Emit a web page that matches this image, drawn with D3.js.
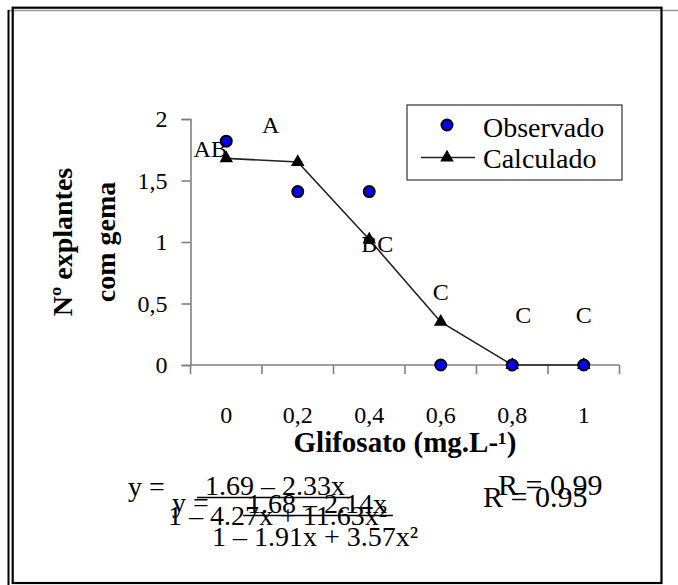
<!DOCTYPE html>
<html>
<head>
<meta charset="utf-8">
<script src="https://cdn.jsdelivr.net/npm/d3@7"></script>
<style>
  html, body { margin: 0; padding: 0; background: #fff; }
  svg text { font-family: "Liberation Serif", "Times New Roman", serif; fill: #000; }
</style>
</head>
<body>
<svg id="chart" width="678" height="585"></svg>
<script>
const categories = ['0', '0,2', '0,4', '0,6', '0,8', '1'];
const observado = [1.82, 1.41, 1.41, 0, 0, 0];
const calculado = [1.68, 1.65, 1.02, 0.35, 0, 0];
const letters = ['AB', 'A', 'BC', 'C', 'C', 'C'];
const letterValues = [1.69, 1.89, 0.92, 0.53, 0.34, 0.34];
const yTicks = [0, 0.5, 1, 1.5, 2];

const svg = d3.select('#chart');

// frames round the chart
svg.append('line').attr('x1', 8).attr('y1', 10.5).attr('x2', 678).attr('y2', 10.5)
  .attr('stroke', '#999').attr('stroke-width', 1.5);
svg.append('line').attr('x1', 8.5).attr('y1', 10).attr('x2', 8.5).attr('y2', 585)
  .attr('stroke', '#000').attr('stroke-width', 2);
svg.append('rect').attr('x', 12.7).attr('y', 7.7).attr('width', 648.8).attr('height', 575.3)
  .attr('fill', 'none').attr('stroke', '#000').attr('stroke-width', 2.2);

const x = d3.scaleBand().domain(categories).range([190.5, 619.5]).padding(0);
const y = d3.scaleLinear().domain([0, 2]).range([365, 119]);
const cx = (i) => x(categories[i]) + x.bandwidth() / 2;

const locale = d3.formatLocale({ decimal: ',', thousands: '.', grouping: [3], currency: ['', ''] });
const fmt = locale.format('~g');

// y axis
const yAxis = svg.append('g')
  .attr('transform', 'translate(190.5,0)')
  .call(d3.axisLeft(y).tickValues(yTicks).tickFormat(fmt).tickSize(9).tickPadding(14));
yAxis.select('.domain').attr('stroke', '#808080').attr('stroke-width', 1.6);
yAxis.selectAll('.tick line').attr('stroke', '#808080').attr('stroke-width', 1.6);
yAxis.selectAll('.tick text')
  .attr('font-family', '"Liberation Serif", serif').attr('font-size', 24).attr('fill', '#000');

// x axis, ticks on the category boundaries
const xg = svg.append('g');
xg.append('line')
  .attr('x1', x.range()[0]).attr('x2', x.range()[1]).attr('y1', y(0)).attr('y2', y(0))
  .attr('stroke', '#808080').attr('stroke-width', 1.6);
const bounds = categories.map(c => x(c)).concat([x.range()[1]]);
xg.selectAll('line.tk').data(bounds).enter().append('line')
  .attr('class', 'tk')
  .attr('x1', d => d).attr('x2', d => d)
  .attr('y1', y(0)).attr('y2', y(0) + 9)
  .attr('stroke', '#808080').attr('stroke-width', 1.6);
xg.selectAll('text').data(categories).enter().append('text')
  .attr('x', (d, i) => cx(i)).attr('y', 423)
  .attr('text-anchor', 'middle').attr('font-size', 24)
  .text(d => d);

// axis titles
svg.append('text')
  .attr('x', (x.range()[0] + x.range()[1]) / 2).attr('y', 452)
  .attr('text-anchor', 'middle').attr('font-size', 29).attr('font-weight', 'bold')
  .text('Glifosato (mg.L-¹)');

const yTitle = svg.append('text')
  .attr('transform', 'translate(0,242) rotate(-90)')
  .attr('text-anchor', 'middle').attr('font-size', 28).attr('font-weight', 'bold');
yTitle.append('tspan').attr('x', 0).attr('y', 72).text('Nº explantes');
yTitle.append('tspan').attr('x', 0).attr('y', 115).text('com gema');

// calculated series
const line = d3.line().x((d, i) => cx(i)).y(d => y(d));
svg.append('path').datum(calculado)
  .attr('d', line).attr('fill', 'none')
  .attr('stroke', '#222').attr('stroke-width', 1.6);

const tri = d3.symbol().type(d3.symbolTriangle).size(80);
svg.selectAll('path.tri').data(calculado).enter().append('path')
  .attr('class', 'tri').attr('d', tri)
  .attr('transform', (d, i) => `translate(${cx(i)},${y(d)})`)
  .attr('fill', '#000');

// observed series
svg.selectAll('circle.obs').data(observado).enter().append('circle')
  .attr('class', 'obs')
  .attr('cx', (d, i) => cx(i)).attr('cy', d => y(d)).attr('r', 5.5)
  .attr('fill', '#0000ff').attr('stroke', '#000').attr('stroke-width', 2);

// letters of the mean comparison
const letterDx = [-16, -27, 8, 0, 11, 0];
svg.selectAll('text.lt').data(letters).enter().append('text')
  .attr('class', 'lt')
  .attr('x', (d, i) => cx(i) + letterDx[i]).attr('y', (d, i) => y(letterValues[i]))
  .attr('text-anchor', 'middle').attr('font-size', 24)
  .text(d => d);

// legend
const lg = svg.append('g');
lg.append('rect').attr('x', 407).attr('y', 105).attr('width', 215).attr('height', 75)
  .attr('fill', '#fff').attr('stroke', '#333').attr('stroke-width', 1.2);
lg.append('circle').attr('cx', 447).attr('cy', 125).attr('r', 5.5)
  .attr('fill', '#0000ff').attr('stroke', '#000').attr('stroke-width', 2);
lg.append('text').attr('x', 483).attr('y', 137).attr('font-size', 28).text('Observado');
lg.append('line').attr('x1', 421).attr('x2', 475).attr('y1', 157.5).attr('y2', 157.5)
  .attr('stroke', '#222').attr('stroke-width', 1.6);
lg.append('path').attr('d', tri).attr('transform', 'translate(447,157.5)').attr('fill', '#000');
lg.append('text').attr('x', 483).attr('y', 168).attr('font-size', 28).text('Calculado');

// fitted equations
const eq = svg.append('g').attr('font-size', 28);
eq.append('text').attr('x', 128).attr('y', 496).text('y =');
eq.append('text').attr('x', 205).attr('y', 495).text('1.69 – 2.33x');
eq.append('line').attr('x1', 197).attr('x2', 350).attr('y1', 497.5).attr('y2', 497.5)
  .attr('stroke', '#000').attr('stroke-width', 1.3);
eq.append('text').attr('x', 168).attr('y', 525).text('1 – 4.27x + 11.63x²');
eq.append('text').attr('x', 172).attr('y', 512).text('y =');
eq.append('text').attr('x', 247).attr('y', 513).text('1.68 – 2.14x');
eq.append('line').attr('x1', 243).attr('x2', 393).attr('y1', 515.5).attr('y2', 515.5)
  .attr('stroke', '#000').attr('stroke-width', 1.3);
eq.append('text').attr('x', 212).attr('y', 546).text('1 – 1.91x + 3.57x²');
eq.append('text').attr('x', 498).attr('y', 495).attr('font-size', 30).text('R = 0.99');
eq.append('text').attr('x', 483).attr('y', 507).attr('font-size', 30).text('R = 0.95');
</script>
</body>
</html>
